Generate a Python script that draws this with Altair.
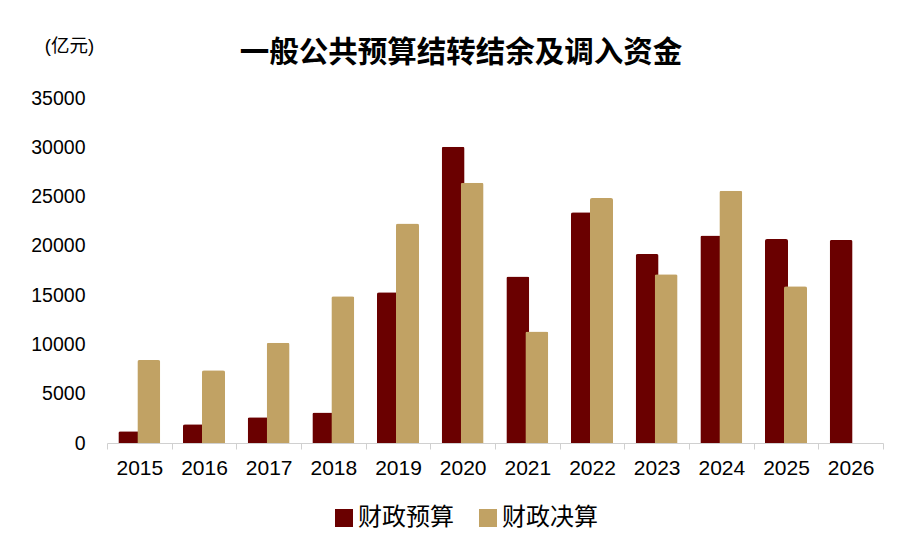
import altair as alt
import pandas as pd

years = ["2015", "2016", "2017", "2018", "2019", "2020", "2021", "2022", "2023", "2024", "2025", "2026"]
budget = [1200, 1900, 2600, 3100, 15300, 30050, 16900, 23400, 19170, 21060, 20690, 20600]
final = [8420, 7370, 10170, 14900, 22280, 26400, 11300, 24850, 17110, 25590, 15890, None]
series_names = ["财政预算", "财政决算"]
colors = ["#6A0000", "#C1A264"]

rows = []
for y, b, f in zip(years, budget, final):
    rows.append({"year": y, "series": series_names[0], "value": b})
    if f is not None:
        rows.append({"year": y, "series": series_names[1], "value": f})
df = pd.DataFrame(rows)

FONT = "Liberation Sans, Arial, Noto Sans CJK SC"

x_enc = alt.X("year:N", sort=years, title=None,
              scale=alt.Scale(paddingInner=0, paddingOuter=0),
              axis=alt.Axis(labelAngle=0, labelFontSize=21, labelColor="#000000",
                            labelFont=FONT, labelPadding=8,
                            domainColor="#D0D0D0", tickColor="#D0D0D0",
                            tickSize=6, tickBand="extent", grid=False))
y_enc = alt.Y("value:Q", title="(亿元)",
              scale=alt.Scale(domain=[0, 35000], nice=False),
              axis=alt.Axis(values=[0, 5000, 10000, 15000, 20000, 25000, 30000, 35000],
                            format="d", labelFontSize=19.5, labelColor="#000000",
                            labelFont=FONT, labelPadding=22,
                            domain=False, ticks=False, grid=False,
                            titleAngle=0, titleX=-38, titleY=-53,
                            titleAlign="center", titleBaseline="middle",
                            titleFontSize=18.5, titleFontWeight="normal",
                            titleFont=FONT, titleColor="#000000"))
color_enc = alt.Color("series:N",
                      scale=alt.Scale(domain=series_names, range=colors),
                      legend=alt.Legend(title=None, orient="none", direction="horizontal",
                                        legendX=225, legendY=408,
                                        symbolType="square", symbolSize=324,
                                        symbolStrokeWidth=0, symbolOpacity=1,
                                        labelFontSize=24, labelFont=FONT,
                                        labelColor="#000000", labelOffset=2,
                                        columnPadding=22))

base = alt.Chart(df)
b1 = base.transform_filter(alt.datum.series == series_names[0]).mark_bar(
    width=23, xOffset=-9.5, cornerRadiusTopLeft=2, cornerRadiusTopRight=2
).encode(x=x_enc, y=y_enc, color=color_enc)
b2 = base.transform_filter(alt.datum.series == series_names[1]).mark_bar(
    width=23, xOffset=9.5, cornerRadiusTopLeft=2, cornerRadiusTopRight=2
).encode(x=x_enc, y=y_enc, color=color_enc)

chart = alt.layer(b1, b2).properties(
    width=776, height=345,
    background="#FFFFFF",
    autosize=alt.AutoSizeParams(type="none"),
    padding={"left": 99, "top": 90, "right": 21, "bottom": 98},
    title=alt.TitleParams("一般公共预算结转结余及调入资金", anchor="middle", dx=-34,
                          offset=-32, fontSize=29.5, fontWeight="bold",
                          font="Noto Sans CJK SC", color="#000000"),
).configure_view(stroke=None)

chart.save("out.html", embed_options={"renderer": "svg", "actions": False})
